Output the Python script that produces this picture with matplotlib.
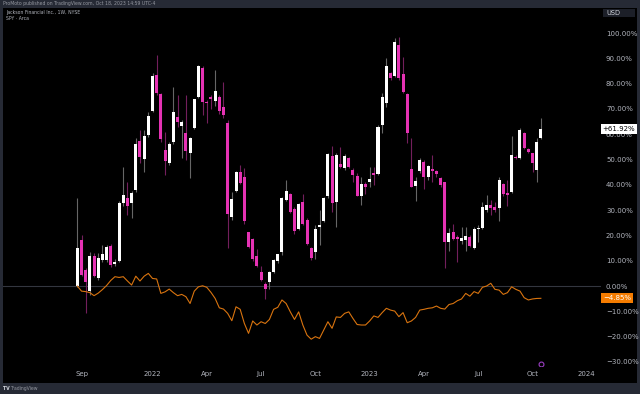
import numpy as np
import pandas as pd
import matplotlib
matplotlib.use("Agg")
import matplotlib.pyplot as plt

# ---------------- data (percent change since first bar, weekly) ----------------
opens = [0, 18.2, 6.3, -1.8, 11.9, 3.0, 10.3, 10.3, 15.9, 8.6,
         9.9, 32.7, 34.9, 32.7, 37.9, 57.4, 50.2, 59.7, 69.2, 83.4,
         75.9, 53.8, 48.5, 57.0, 66.7, 63.4, 60.3, 52.7, 62.6, 74.8,
         86.0, 72.9, 74.8, 73.1, 74.6, 70.9, 64.6, 27.1, 37.7, 45.2,
         43.2, 21.2, 18.4, 11.9, 5.7, 0.9, 1.7, 5.7, 9.9, 13.6,
         34.0, 36.2, 30.5, 22.5, 33.3, 26.1, 14.9, 13.6, 23.4, 25.8,
         35.4, 51.4, 33.2, 48.1, 46.5, 50.6, 45.8, 43.6, 35.4, 40.3,
         41.2, 44.5, 44.1, 63.6, 72.5, 84.3, 83.0, 95.2, 84.0, 75.9,
         46.1, 39.7, 45.6, 49.1, 43.1, 46.1, 45.4, 42.6, 41.0, 17.3,
         21.5, 19.2, 17.9, 18.2, 19.2, 14.9, 22.4, 22.8, 30.0, 32.0,
         31.3, 30.7, 40.3, 36.9, 37.0, 51.1, 50.5, 60.3, 54.0, 52.4,
         45.8, 58.6]
highs = [34.7, 20.2, 7.0, 13.6, 12.9, 12.9, 16.2, 16.2, 16.5, 10.5,
         33.5, 47.2, 41.2, 37.5, 58.4, 61.7, 61.7, 68.9, 84.1, 91.3,
         76.5, 61.0, 57.0, 78.8, 75.5, 65.5, 75.5, 59.0, 74.0, 87.5,
         87.0, 73.5, 75.5, 85.4, 75.5, 80.8, 65.5, 37.3, 45.5, 47.8,
         46.5, 21.5, 18.8, 14.5, 8.0, 1.5, 6.0, 10.8, 12.8, 35.0,
         41.9, 36.6, 31.4, 32.7, 36.4, 26.7, 15.5, 24.0, 30.0, 35.3,
         52.4, 55.3, 52.4, 55.0, 52.2, 51.1, 46.5, 44.5, 43.1, 41.2,
         47.2, 47.2, 63.6, 76.2, 90.0, 84.7, 97.9, 98.6, 90.6, 76.2,
         58.4, 43.2, 50.5, 49.8, 47.8, 51.8, 45.8, 43.2, 41.2, 22.8,
         24.5, 20.0, 23.4, 23.4, 20.0, 23.4, 24.0, 33.3, 35.9, 34.0,
         33.3, 43.2, 40.9, 41.9, 59.3, 51.8, 62.3, 61.0, 54.5, 52.7,
         58.4, 66.6]
lows = [-0.5, 4.0, -10.5, -3.5, 3.5, 2.4, 9.5, 9.5, 7.5, 8.0,
        9.5, 31.5, 28.1, 26.7, 37.3, 48.5, 45.2, 59.0, 68.9, 75.5,
        57.0, 43.9, 47.8, 56.3, 63.0, 50.5, 49.8, 42.6, 62.0, 74.5,
        67.8, 64.3, 70.0, 71.0, 68.0, 66.5, 14.9, 26.0, 37.0, 40.5,
        24.5, 15.0, 10.0, 7.5, 1.8, -5.3, -1.2, 5.0, 9.0, 12.3,
        33.5, 28.7, 20.6, 22.1, 24.1, 16.2, 10.3, 10.7, 16.2, 25.4,
        34.7, 29.4, 23.4, 46.5, 45.8, 46.5, 41.2, 35.4, 32.0, 36.4,
        39.3, 40.0, 43.9, 60.3, 70.9, 81.5, 82.8, 81.5, 76.2, 56.6,
        39.0, 33.7, 44.5, 38.3, 41.8, 41.2, 43.1, 39.3, 7.3, 14.0,
        18.2, 9.6, 16.6, 14.0, 15.5, 14.5, 17.3, 22.4, 29.4, 28.1,
        29.4, 25.8, 35.7, 31.6, 36.6, 50.1, 50.1, 54.0, 52.4, 45.2,
        41.2, 58.3]
closes = [15.1, 4.5, 1.7, 11.9, 4.1, 10.9, 12.5, 15.5, 8.3, 9.6,
          32.7, 36.0, 31.7, 36.6, 56.0, 51.1, 59.4, 67.3, 83.1, 76.2,
          58.1, 49.5, 56.0, 68.6, 65.0, 65.0, 53.5, 58.6, 73.8, 87.0,
          72.9, 72.2, 74.0, 77.2, 69.3, 67.6, 28.3, 34.3, 44.9, 40.8,
          25.6, 15.3, 10.5, 8.0, 2.4, -1.1, 5.7, 10.3, 12.5, 34.7,
          37.5, 29.1, 21.9, 32.3, 24.5, 16.6, 10.9, 22.5, 24.1, 34.9,
          52.2, 33.0, 51.8, 47.2, 51.5, 46.9, 43.9, 35.7, 40.3, 39.3,
          42.3, 43.9, 63.0, 74.6, 87.1, 82.4, 96.6, 82.1, 76.6, 60.3,
          39.3, 41.6, 49.8, 43.1, 47.4, 45.6, 44.1, 39.8, 17.3, 20.8,
          18.6, 18.6, 18.8, 19.9, 15.9, 22.4, 23.1, 31.1, 32.0, 31.0,
          30.0, 41.9, 36.4, 36.0, 51.8, 50.5, 61.7, 54.7, 53.1, 48.7,
          57.0, 61.92]
spy_rel = [0, -2.0, -2.2, -2.6, -3.8, -2.8, -1.4, 0.2, 2.2, 3.7,
           3.4, 3.7, 2.0, 0.4, 3.9, 2.0, 3.9, 5.0, 3.0, 2.8,
           -2.9, -2.3, -1.2, -2.6, -3.8, -3.3, -4.2, -6.9, -2.0, -0.3,
           0.1, -0.5, -2.5, -4.9, -8.6, -9.1, -10.8, -13.7, -8.2, -9.2,
           -14.8, -18.7, -13.8, -15.4, -14.1, -14.8, -13.2, -9.2, -8.4, -5.5,
           -6.9, -10.2, -13.2, -10.2, -15.4, -19.4, -21.0, -20.0, -20.7, -17.4,
           -14.1, -16.7, -12.2, -12.4, -10.8, -10.2, -12.8, -15.2, -15.4, -15.4,
           -13.8, -11.8, -12.4, -10.5, -8.8, -9.5, -9.9, -12.1, -10.5, -14.5,
           -13.8, -12.4, -9.5, -9.2, -8.8, -8.6, -7.9, -8.8, -9.1, -7.3,
           -6.9, -5.8, -5.1, -2.9, -4.0, -2.2, -2.9, -0.5, 0.0, 1.1,
           -1.3, -1.6, -3.3, -2.6, -0.3, -1.3, -2.0, -4.6, -5.5, -5.1,
           -4.9, -4.85]
first_week = "2021-08-30"
tick_months = [(2021, 9), (2022, 1), (2022, 4), (2022, 7), (2022, 10),
               (2023, 1), (2023, 4), (2023, 7), (2023, 10), (2024, 1)]
y_ticks = [-30, -20, -10, 0, 10, 20, 30, 40, 50, 60, 70, 80, 90, 100]

# ---------------- styling ----------------
W, H = 640, 394
FRAME = "#262a35"
TXT = "#b2b5be"
UP = "#ffffff"
DOWN = "#e632b4"
UP_WICK = "#666666"
DOWN_WICK = "#731f5c"
ORANGE = "#d9740f"

fig = plt.figure(figsize=(W / 100, H / 100), dpi=100, facecolor=FRAME)

def fx(px):
    return px / W

def fy(py):
    return 1 - py / H

# black backdrop
bg = fig.add_axes([fx(3), fy(383), fx(637) - fx(3), fy(8) - fy(383)])
bg.set_facecolor("#000000")
bg.set_xticks([]); bg.set_yticks([])
for s in bg.spines.values():
    s.set_visible(False)

ax = fig.add_axes([fx(3), fy(366), fx(601) - fx(3), fy(8) - fy(366)])
ax.patch.set_alpha(0)
for s in ax.spines.values():
    s.set_visible(False)

n = len(closes)
x = np.arange(n)
o = np.array(opens); c = np.array(closes)
h = np.array(highs); l = np.array(lows)
up = c >= o
body = c - o
minb = 0.45
body = np.where(np.abs(body) < minb, np.where(up, minb, -minb), body)

ax.axhline(0, color="#33363f", lw=0.8, zorder=1)
ax.vlines(x[up], l[up], h[up], color=UP_WICK, lw=0.8, zorder=2)
ax.vlines(x[~up], l[~up], h[~up], color=DOWN_WICK, lw=0.8, zorder=2)
ax.bar(x[up], body[up], bottom=o[up], width=0.72, color=UP, linewidth=0, zorder=3)
ax.bar(x[~up], body[~up], bottom=o[~up], width=0.72, color=DOWN, linewidth=0, zorder=3)
ax.plot(x, spy_rel, color=ORANGE, lw=0.8, zorder=4)

ax.set_xlim(-17.8, 125.4)
ax.set_ylim(-31.6, 109.9)

# x ticks: first weekly bar of each labelled month
weeks = pd.date_range(first_week, periods=140, freq="W-MON")
tpos, tlab = [], []
for (yy, mm) in tick_months:
    idx = int(np.argmax((weeks.year == yy) & (weeks.month == mm)))
    tpos.append(idx)
    tlab.append(str(yy) if mm == 1 else pd.Timestamp(yy, mm, 1).strftime("%b"))
ax.set_xticks(tpos)
ax.set_xticklabels(tlab)
ax.tick_params(axis="x", length=0, pad=3.6, labelsize=5, colors=TXT)

ax.yaxis.tick_right()
ax.set_yticks(y_ticks)
ax.set_yticklabels([f"{v:.2f}%".replace("-", "\u2212") for v in y_ticks])
ax.tick_params(axis="y", length=0, pad=3.6, labelsize=5, colors=TXT)

# dividend/event marker
ax.plot([111], [-30.7], marker="o", ms=3.5, mfc="none", mec="#9b3fc4", mew=0.8, zorder=5)

# last value labels
fig.text(fx(619), fy(129), "+61.92%", ha="center", va="center", fontsize=5, color="#000000",
         bbox=dict(boxstyle="square,pad=0.25", fc="#ffffff", ec="none"), zorder=10)
fig.text(fx(617), fy(298), "\u22124.85%", ha="center", va="center", fontsize=5, color="#ffffff",
         bbox=dict(boxstyle="square,pad=0.25", fc="#f57c00", ec="none"), zorder=10)

# USD box
fig.patches.append(plt.Rectangle((fx(603), fy(17)), fx(635) - fx(603), fy(9) - fy(17),
                                 transform=fig.transFigure, fc="#1c1f28", ec="none", zorder=9))
fig.text(fx(606), fy(13), "USD", ha="left", va="center", fontsize=4.8, color="#d1d4dc", zorder=10)

# header texts
fig.text(fx(3), fy(4), "ProMoto published on TradingView.com, Oct 18, 2023 14:59 UTC-4",
         ha="left", va="center", fontsize=3.3, color="#9598a1")
fig.text(fx(6), fy(12.5), "Jackson Financial Inc., 1W, NYSE", ha="left", va="center",
         fontsize=3.3, color="#b2b5be")
fig.text(fx(6), fy(18.5), "SPY \u00b7 Arca", ha="left", va="center", fontsize=3.3, color="#b2b5be")
fig.text(fx(3), fy(388.5), "TV", ha="left", va="center", fontsize=3.3, color="#d1d4dc", weight="bold")
fig.text(fx(10), fy(388.5), "TradingView", ha="left", va="center", fontsize=3.3, color="#9598a1")

fig.savefig("out.png", dpi=100, facecolor=FRAME)
